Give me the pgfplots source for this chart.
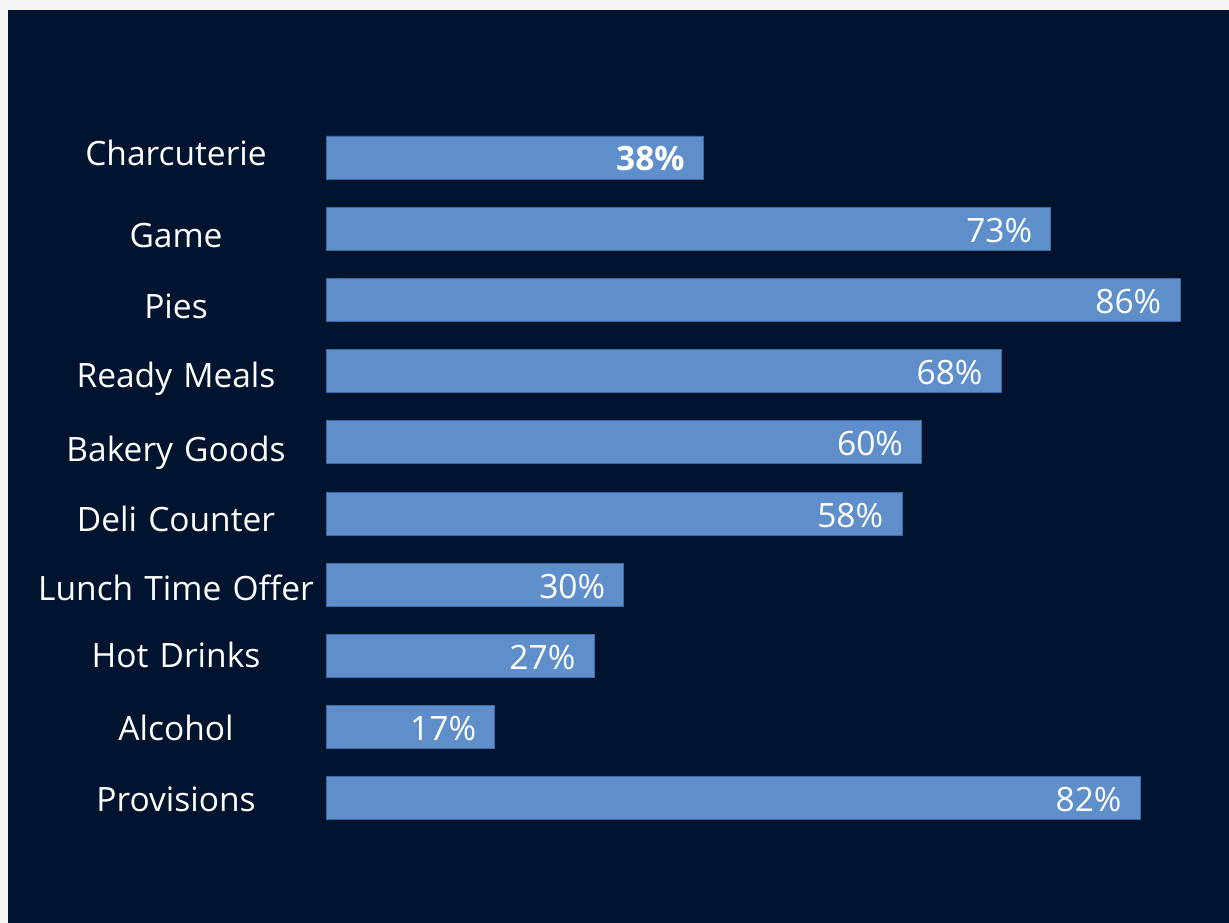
\documentclass[border=0pt]{standalone}
\usepackage{pgfplots}
\pgfplotsset{compat=1.18}
\usepackage{fontspec}
\setmainfont{Open Sans}
\definecolor{navy}{HTML}{00142F}
\definecolor{barblue}{HTML}{5F8FCA}
\definecolor{baredge}{HTML}{3D6BA3}
\definecolor{edgegray}{HTML}{F4F4F4}
\begin{document}
\begin{tikzpicture}[x=1pt,y=1pt]
\useasboundingbox (0,0) rectangle (1229,923);
\fill[edgegray] (0,0) rectangle (1229,923);
\fill[navy] (8,0) rectangle (1229,913);
\begin{axis}[
  at={(326pt,801.1pt)}, anchor=north west,
  scale only axis, width=903pt, height=712pt,
  xmin=0, xmax=90.94, ymin=-0.5, ymax=9.5, y dir=reverse,
  xbar, bar width=43pt,
  axis line style={draw=none}, tick style={draw=none},
  xtick=\empty,
  ytick={0,...,9},
  yticklabels={
    \raisebox{3.8pt}{Charcuterie},
    \raisebox{-7.3pt}{Game},
    \raisebox{-7pt}{Pies},
    \raisebox{-4.8pt}{Ready Meals},
    \raisebox{-7.2pt}{Bakery Goods},
    \raisebox{-5.7pt}{Deli Counter},
    \raisebox{-3.8pt}{Lunch Time Offer},
    \raisebox{0.2pt}{Hot Drinks},
    \raisebox{-1.7pt}{Alcohol},
    \raisebox{-1pt}{Provisions}},
  yticklabel style={text width=286pt, align=center, anchor=east, inner sep=0pt, xshift=-2.5pt,
    text height=24pt, text depth=0pt,
    text=white, font=\fontsize{33.5}{40}\selectfont},
  clip=false,
]
\addplot[fill=barblue, draw=baredge, line width=0.8pt,
  point meta=explicit symbolic,
  nodes near coords={\pgfplotspointmeta},
  every node near coord/.append style={anchor=east, xshift=-15pt, yshift=-1.5pt,
    text height=24pt, text depth=0pt, text=white, font=\fontsize{33.5}{40}\selectfont},
] coordinates {
  (38,0) [\textbf{38\%}]
  (73,1) [73\%]
  (86,2) [86\%]
  (68,3) [68\%]
  (60,4) [60\%]
  (58,5) [58\%]
  (30,6) [30\%]
  (27,7) [27\%]
  (17,8) [17\%]
  (82,9) [82\%]
};
\end{axis}
\end{tikzpicture}
\end{document}
